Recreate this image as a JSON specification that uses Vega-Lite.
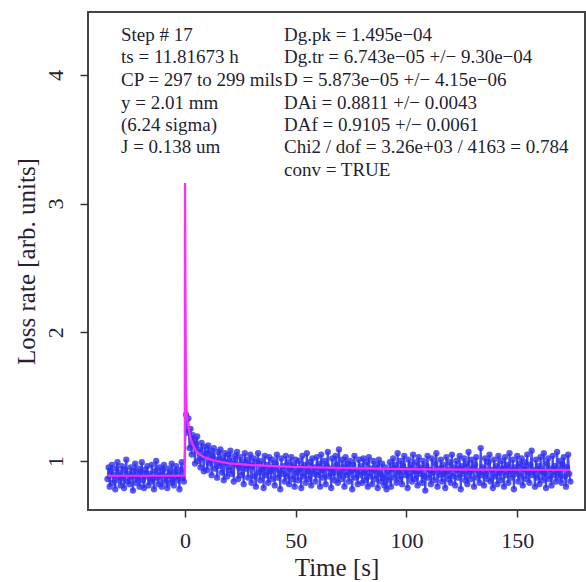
{
"$schema":"https://vega.github.io/schema/vega-lite/v6.json",
"width":497,"height":498,
"autosize":"none",
"padding":{"left":88,"top":12,"right":1,"bottom":72},
"background":"white",
"view":{"stroke":"#444","strokeWidth":2,"fill":"white"},
"datasets":{
"pts":[
{"t":-35,"v":0.86},{"t":-34.5,"v":0.95},{"t":-34,"v":0.80},{"t":-33.5,"v":0.92},{"t":-33,"v":0.97},{"t":-32.5,"v":0.83},{"t":-32,"v":0.89},{"t":-31.5,"v":0.78},{"t":-31,"v":0.94},{"t":-30.5,"v":0.99},
{"t":-30,"v":0.85},{"t":-29.5,"v":0.91},{"t":-29,"v":0.81},{"t":-28.5,"v":0.96},{"t":-28,"v":0.87},{"t":-27.5,"v":0.79},{"t":-27,"v":0.93},{"t":-26.5,"v":1.01},{"t":-26,"v":0.84},{"t":-25.5,"v":0.90},
{"t":-25,"v":0.82},{"t":-24.5,"v":0.95},{"t":-24,"v":0.88},{"t":-23.5,"v":0.77},{"t":-23,"v":0.92},{"t":-22.5,"v":0.98},{"t":-22,"v":0.83},{"t":-21.5,"v":0.87},{"t":-21,"v":0.94},{"t":-20.5,"v":0.80},
{"t":-20,"v":0.91},{"t":-19.5,"v":0.99},{"t":-19,"v":0.85},{"t":-18.5,"v":0.79},{"t":-18,"v":0.93},{"t":-17.5,"v":0.88},{"t":-17,"v":0.96},{"t":-16.5,"v":0.81},{"t":-16,"v":0.90},{"t":-15.5,"v":0.84},
{"t":-15,"v":0.97},{"t":-14.5,"v":0.86},{"t":-14,"v":0.78},{"t":-13.5,"v":0.92},{"t":-13,"v":1.00},{"t":-12.5,"v":0.87},{"t":-12,"v":0.82},{"t":-11.5,"v":0.95},{"t":-11,"v":0.89},{"t":-10.5,"v":0.80},
{"t":-10,"v":0.93},{"t":-9.5,"v":0.97},{"t":-9,"v":0.84},{"t":-8.5,"v":0.88},{"t":-8,"v":0.79},{"t":-7.5,"v":0.94},{"t":-7,"v":0.90},{"t":-6.5,"v":0.83},{"t":-6,"v":0.98},{"t":-5.5,"v":0.86},
{"t":-5,"v":0.81},{"t":-4.5,"v":0.92},{"t":-4,"v":0.96},{"t":-3.5,"v":0.85},{"t":-3,"v":0.89},{"t":-2.5,"v":0.78},{"t":-2,"v":0.93},{"t":-1.5,"v":0.99},{"t":-1,"v":0.87},{"t":-0.5,"v":0.84},
{"t":0.5,"v":1.36},{"t":1,"v":1.22},{"t":1.5,"v":1.33},{"t":2,"v":1.10},{"t":2.5,"v":1.25},{"t":3,"v":1.05},{"t":3.5,"v":1.20},{"t":4,"v":1.16},{"t":4.5,"v":0.98},{"t":5,"v":1.13},
{"t":5.5,"v":1.19},{"t":6,"v":1.00},{"t":6.5,"v":1.09},{"t":7,"v":0.95},{"t":7.5,"v":1.14},{"t":8,"v":1.03},{"t":8.5,"v":0.92},{"t":9,"v":1.11},{"t":9.5,"v":1.06},{"t":10,"v":0.93},
{"t":10.5,"v":1.12},{"t":11,"v":0.98},{"t":11.5,"v":1.08},{"t":12,"v":0.89},{"t":12.5,"v":1.04},{"t":13,"v":1.10},{"t":13.5,"v":0.94},{"t":14,"v":1.01},{"t":14.5,"v":0.87},{"t":15,"v":1.07},
{"t":15.5,"v":0.96},{"t":16,"v":1.09},{"t":16.5,"v":0.91},{"t":17,"v":1.02},{"t":17.5,"v":0.85},{"t":18,"v":1.06},{"t":18.5,"v":0.99},{"t":19,"v":0.88},{"t":19.5,"v":1.05},{"t":20,"v":0.93},
{"t":20.5,"v":1.08},{"t":21,"v":0.90},{"t":21.5,"v":1.00},{"t":22,"v":0.84},{"t":22.5,"v":1.04},{"t":23,"v":0.97},{"t":23.5,"v":1.07},{"t":24,"v":0.86},{"t":24.5,"v":0.95},{"t":25,"v":1.03},
{"t":25.5,"v":0.89},{"t":26,"v":0.99},{"t":26.5,"v":0.82},{"t":27,"v":1.06},{"t":27.5,"v":0.94},{"t":28,"v":1.01},{"t":28.5,"v":0.87},{"t":29,"v":0.97},{"t":29.5,"v":1.05},{"t":30,"v":0.83},
{"t":30.5,"v":0.96},{"t":31,"v":1.02},{"t":31.5,"v":0.88},{"t":32,"v":0.80},{"t":32.5,"v":0.99},{"t":33,"v":1.06},{"t":33.5,"v":0.91},{"t":34,"v":0.85},{"t":34.5,"v":1.00},{"t":35,"v":0.94},
{"t":35.5,"v":0.79},{"t":36,"v":1.04},{"t":36.5,"v":0.89},{"t":37,"v":0.97},{"t":37.5,"v":0.83},{"t":38,"v":1.03},{"t":38.5,"v":0.92},{"t":39,"v":0.86},{"t":39.5,"v":1.01},{"t":40,"v":0.95},
{"t":40.5,"v":0.81},{"t":41,"v":0.98},{"t":41.5,"v":1.05},{"t":42,"v":0.87},{"t":42.5,"v":0.93},{"t":43,"v":0.78},{"t":43.5,"v":1.02},{"t":44,"v":0.90},{"t":44.5,"v":0.96},{"t":45,"v":0.84},
{"t":45.5,"v":1.04},{"t":46,"v":0.88},{"t":46.5,"v":0.99},{"t":47,"v":0.82},{"t":47.5,"v":0.94},{"t":48,"v":1.03},{"t":48.5,"v":0.86},{"t":49,"v":0.97},{"t":49.5,"v":0.80},{"t":50,"v":1.01},
{"t":50.5,"v":0.91},{"t":51,"v":0.85},{"t":51.5,"v":1.00},{"t":52,"v":0.94},{"t":52.5,"v":0.79},{"t":53,"v":1.04},{"t":53.5,"v":0.88},{"t":54,"v":0.97},{"t":54.5,"v":0.83},{"t":55,"v":1.06},
{"t":55.5,"v":0.92},{"t":56,"v":0.86},{"t":56.5,"v":0.99},{"t":57,"v":0.81},{"t":57.5,"v":1.02},{"t":58,"v":0.90},{"t":58.5,"v":0.95},{"t":59,"v":0.84},{"t":59.5,"v":1.03},{"t":60,"v":0.89},
{"t":60.5,"v":0.98},{"t":61,"v":0.80},{"t":61.5,"v":1.05},{"t":62,"v":0.93},{"t":62.5,"v":0.87},{"t":63,"v":1.00},{"t":63.5,"v":0.82},{"t":64,"v":0.96},{"t":64.5,"v":1.07},{"t":65,"v":0.88},
{"t":65.5,"v":0.94},{"t":66,"v":0.79},{"t":66.5,"v":1.02},{"t":67,"v":0.91},{"t":67.5,"v":0.85},{"t":68,"v":1.04},{"t":68.5,"v":0.97},{"t":69,"v":0.83},{"t":69.5,"v":1.09},{"t":70,"v":0.90},
{"t":70.5,"v":0.86},{"t":71,"v":1.01},{"t":71.5,"v":0.95},{"t":72,"v":0.80},{"t":72.5,"v":1.03},{"t":73,"v":0.89},{"t":73.5,"v":0.98},{"t":74,"v":0.84},{"t":74.5,"v":1.00},{"t":75,"v":0.92},
{"t":75.5,"v":0.78},{"t":76,"v":0.97},{"t":76.5,"v":1.04},{"t":77,"v":0.87},{"t":77.5,"v":0.93},{"t":78,"v":0.82},{"t":78.5,"v":1.01},{"t":79,"v":0.89},{"t":79.5,"v":0.96},{"t":80,"v":0.83},
{"t":80.5,"v":1.02},{"t":81,"v":0.91},{"t":81.5,"v":0.85},{"t":82,"v":0.99},{"t":82.5,"v":0.80},{"t":83,"v":1.03},{"t":83.5,"v":0.88},{"t":84,"v":0.94},{"t":84.5,"v":0.82},{"t":85,"v":1.00},
{"t":85.5,"v":0.93},{"t":86,"v":0.86},{"t":86.5,"v":0.97},{"t":87,"v":0.79},{"t":87.5,"v":1.01},{"t":88,"v":0.90},{"t":88.5,"v":0.84},{"t":89,"v":0.98},{"t":89.5,"v":0.87},{"t":90,"v":0.81},
{"t":90.5,"v":0.95},{"t":91,"v":0.78},{"t":91.5,"v":0.92},{"t":92,"v":0.85},{"t":92.5,"v":0.99},{"t":93,"v":0.80},{"t":93.5,"v":0.94},{"t":94,"v":1.02},{"t":94.5,"v":0.87},{"t":95,"v":0.97},
{"t":95.5,"v":0.83},{"t":96,"v":1.06},{"t":96.5,"v":0.91},{"t":97,"v":0.86},{"t":97.5,"v":1.00},{"t":98,"v":0.82},{"t":98.5,"v":0.96},{"t":99,"v":1.04},{"t":99.5,"v":0.89},{"t":100,"v":0.93},
{"t":100.5,"v":0.79},{"t":101,"v":1.01},{"t":101.5,"v":0.88},{"t":102,"v":0.97},{"t":102.5,"v":0.84},{"t":103,"v":1.05},{"t":103.5,"v":0.92},{"t":104,"v":0.86},{"t":104.5,"v":0.99},{"t":105,"v":0.81},
{"t":105.5,"v":1.03},{"t":106,"v":0.90},{"t":106.5,"v":0.95},{"t":107,"v":0.83},{"t":107.5,"v":1.00},{"t":108,"v":0.88},{"t":108.5,"v":0.77},{"t":109,"v":0.96},{"t":109.5,"v":1.04},{"t":110,"v":0.87},
{"t":110.5,"v":0.93},{"t":111,"v":0.82},{"t":111.5,"v":1.02},{"t":112,"v":0.91},{"t":112.5,"v":0.85},{"t":113,"v":0.98},{"t":113.5,"v":1.06},{"t":114,"v":0.80},{"t":114.5,"v":0.94},{"t":115,"v":0.89},
{"t":115.5,"v":1.01},{"t":116,"v":0.84},{"t":116.5,"v":0.97},{"t":117,"v":0.90},{"t":117.5,"v":0.79},{"t":118,"v":1.03},{"t":118.5,"v":0.92},{"t":119,"v":0.86},{"t":119.5,"v":0.99},{"t":120,"v":0.83},
{"t":120.5,"v":1.05},{"t":121,"v":0.88},{"t":121.5,"v":0.95},{"t":122,"v":0.81},{"t":122.5,"v":1.00},{"t":123,"v":0.93},{"t":123.5,"v":0.87},{"t":124,"v":1.04},{"t":124.5,"v":0.78},{"t":125,"v":0.96},
{"t":125.5,"v":0.90},{"t":126,"v":1.02},{"t":126.5,"v":0.85},{"t":127,"v":0.98},{"t":127.5,"v":0.82},{"t":128,"v":1.07},{"t":128.5,"v":0.91},{"t":129,"v":0.86},{"t":129.5,"v":1.01},{"t":130,"v":0.94},
{"t":130.5,"v":0.80},{"t":131,"v":0.97},{"t":131.5,"v":1.03},{"t":132,"v":0.87},{"t":132.5,"v":0.92},{"t":133,"v":0.83},{"t":133.5,"v":1.10},{"t":134,"v":0.89},{"t":134.5,"v":0.95},{"t":135,"v":0.81},
{"t":135.5,"v":1.02},{"t":136,"v":0.90},{"t":136.5,"v":0.86},{"t":137,"v":0.99},{"t":137.5,"v":1.05},{"t":138,"v":0.84},{"t":138.5,"v":0.93},{"t":139,"v":0.79},{"t":139.5,"v":1.01},{"t":140,"v":0.88},
{"t":140.5,"v":0.96},{"t":141,"v":0.82},{"t":141.5,"v":1.04},{"t":142,"v":0.91},{"t":142.5,"v":0.85},{"t":143,"v":1.00},{"t":143.5,"v":0.94},{"t":144,"v":0.80},{"t":144.5,"v":1.03},{"t":145,"v":0.89},
{"t":145.5,"v":0.97},{"t":146,"v":0.83},{"t":146.5,"v":1.06},{"t":147,"v":0.92},{"t":147.5,"v":0.87},{"t":148,"v":1.01},{"t":148.5,"v":0.78},{"t":149,"v":0.95},{"t":149.5,"v":0.90},{"t":150,"v":1.04},
{"t":150.5,"v":0.84},{"t":151,"v":0.98},{"t":151.5,"v":0.88},{"t":152,"v":1.02},{"t":152.5,"v":0.81},{"t":153,"v":0.94},{"t":153.5,"v":0.99},{"t":154,"v":0.86},{"t":154.5,"v":1.05},{"t":155,"v":0.91},
{"t":155.5,"v":0.83},{"t":156,"v":0.97},{"t":156.5,"v":1.08},{"t":157,"v":0.89},{"t":157.5,"v":0.93},{"t":158,"v":0.80},{"t":158.5,"v":1.01},{"t":159,"v":0.87},{"t":159.5,"v":0.96},{"t":160,"v":0.82},
{"t":160.5,"v":1.03},{"t":161,"v":0.92},{"t":161.5,"v":0.85},{"t":162,"v":1.06},{"t":162.5,"v":0.90},{"t":163,"v":0.79},{"t":163.5,"v":0.98},{"t":164,"v":1.02},{"t":164.5,"v":0.86},{"t":165,"v":0.94},
{"t":165.5,"v":0.81},{"t":166,"v":1.04},{"t":166.5,"v":0.89},{"t":167,"v":0.96},{"t":167.5,"v":0.84},{"t":168,"v":1.07},{"t":168.5,"v":0.91},{"t":169,"v":0.87},{"t":169.5,"v":1.00},{"t":170,"v":0.83},
{"t":170.5,"v":0.97},{"t":171,"v":1.03},{"t":171.5,"v":0.88},{"t":172,"v":0.80},{"t":172.5,"v":0.95},{"t":173,"v":1.05},{"t":173.5,"v":0.90},{"t":174,"v":0.84}
],
"fit":[
{"t":-35,"v":0.885},{"t":-0.1,"v":0.885},{"t":0,"v":3.16},{"t":0.4,"v":1.6},{"t":0.8,"v":1.36},{"t":1.2,"v":1.3},{"t":1.6,"v":1.26},{"t":2,"v":1.22},{"t":2.5,"v":1.18},{"t":3,"v":1.15},
{"t":4,"v":1.11},{"t":5,"v":1.08},{"t":6,"v":1.06},{"t":8,"v":1.035},{"t":10,"v":1.02},{"t":14,"v":1.0},{"t":20,"v":0.982},{"t":25,"v":0.975},{"t":30,"v":0.968},{"t":40,"v":0.96},
{"t":50,"v":0.953},{"t":75,"v":0.945},{"t":100,"v":0.937},{"t":130,"v":0.933},{"t":174,"v":0.93}
],
"notes":[
{"t":-28.9,"v":4.31,"label":"Step # 17"},
{"t":-28.9,"v":4.139,"label":"ts = 11.81673 h"},
{"t":-28.9,"v":3.96,"label":"CP = 297 to 299 mils"},
{"t":-28.9,"v":3.782,"label":"y = 2.01 mm"},
{"t":-28.9,"v":3.611,"label":"(6.24 sigma)"},
{"t":-28.9,"v":3.44,"label":"J = 0.138 um"},
{"t":44.7,"v":4.31,"label":"Dg.pk =  1.495e−04"},
{"t":44.7,"v":4.139,"label":"Dg.tr =  6.743e−05 +/− 9.30e−04"},
{"t":44.7,"v":3.96,"label":"D = 5.873e−05 +/− 4.15e−06"},
{"t":44.7,"v":3.782,"label":"DAi = 0.8811 +/− 0.0043"},
{"t":44.7,"v":3.611,"label":"DAf = 0.9105 +/− 0.0061"},
{"t":44.7,"v":3.44,"label":"Chi2 / dof = 3.26e+03 / 4163 = 0.784"},
{"t":44.7,"v":3.261,"label":"conv = TRUE"}
]
},
"encoding":{
"x":{"field":"t","type":"quantitative","scale":{"domain":[-43.8,180.6],"nice":false,"zero":false},
 "axis":{"values":[0,50,100,150],"title":"Time [s]","grid":false,"domain":false,"tickSize":7,"tickWidth":1.5,"tickColor":"#333",
  "labelFont":"Liberation Serif","labelFontSize":22,"labelColor":"#2a2030","labelPadding":13,"labelFlush":false,
  "titleFont":"Liberation Serif","titleFontSize":25,"titleFontWeight":"normal","titleColor":"#2a2030","titlePadding":4}},
"y":{"field":"v","type":"quantitative","scale":{"domain":[0.619,4.489],"nice":false,"zero":false},
 "axis":{"values":[1,2,3,4],"title":"Loss rate [arb. units]","grid":false,"domain":false,"tickSize":8,"tickWidth":1.5,"tickColor":"#333",
  "labelFont":"Liberation Serif","labelFontSize":22,"labelColor":"#2a2030","labelAngle":-90,"labelAlign":"center","labelBaseline":"bottom","labelPadding":13,"labelFlush":false,
  "titleFont":"Liberation Serif","titleFontSize":25,"titleFontWeight":"normal","titleColor":"#2a2030","titlePadding":5}}
},
"layer":[
{"data":{"name":"pts"},"mark":{"type":"line","color":"#3535f5","strokeWidth":2,"opacity":0.9}},
{"data":{"name":"pts"},"mark":{"type":"point","filled":true,"color":"#3030f0","size":40,"opacity":0.8}},
{"data":{"name":"fit"},"mark":{"type":"line","color":"#ff2cff","strokeWidth":2.2}},
{"data":{"name":"notes"},"mark":{"type":"text","align":"left","baseline":"middle","font":"Liberation Serif","fontSize":19,"color":"#1f1f33"},
 "encoding":{"text":{"field":"label","type":"nominal"}}}
]
}
